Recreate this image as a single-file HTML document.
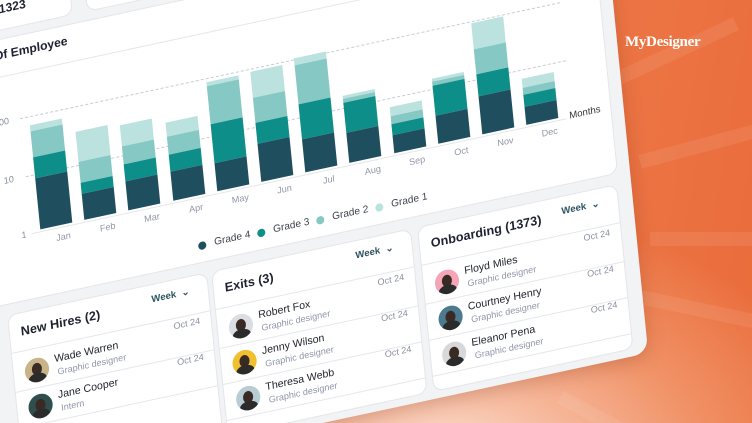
<!DOCTYPE html>
<html><head><meta charset="utf-8"><style>
*{margin:0;padding:0;box-sizing:border-box}
html{width:752px;height:423px;overflow:hidden;background:#EE7B4B}
body{width:752px;height:423px;overflow:hidden;position:relative;font-family:"Liberation Sans",sans-serif;
background:radial-gradient(ellipse 420px 260px at 58% 110%,#FCE3D6 0%,#F6B597 35%,#F09064 65%,rgba(238,122,74,0) 100%),linear-gradient(100deg,#F08A5C 0%,#EE7B4B 60%,#EA6C3B 100%);}
.ray{position:absolute;background:rgba(255,255,255,0.08);height:14px;transform-origin:0 50%}
#clip{position:absolute;left:0;top:0;width:752px;height:423px;overflow:hidden}
#w{position:absolute;left:0;top:0;width:0;height:0;transform:matrix(1,-0.215,0.1,1,0,0);transform-origin:0 0}
#w div{position:absolute}
.panel{left:-140px;top:-120px;width:740px;height:602px;background:#F2F3F5;border-radius:14px;box-shadow:0 4px 18px rgba(120,40,10,.25)}
.card{background:#fff;border:1px solid #E4E6EA;border-radius:10px}
.bar div{position:relative!important;width:32px}
.g4{background:#1F4F5F}.g3{background:#0E8E89}.g2{background:#86C8C4}.g1{background:#BCE2DF}
.ml{font-size:9px;color:#9096A8;width:40px;text-align:center}
.dash{height:0;border-top:1px dashed #C9CCD4}
.leg{font-size:10px;color:#3B3F4A;white-space:nowrap}
.dot{width:8px;height:8px;border-radius:50%}
.ct{font-size:12.5px;font-weight:bold;color:#1E2230;white-space:nowrap}
.wk{font-size:9.5px;color:#2F5561;white-space:nowrap;font-weight:bold}
.dt{font-size:9px;color:#8A8FA3;white-space:nowrap}
.nm{font-size:10.5px;color:#22252E;white-space:nowrap}
.sb{font-size:9px;color:#8F94A8;white-space:nowrap}
.sep{height:1px;background:#E6E7EB}
.av{width:24px;height:24px;border-radius:50%;overflow:hidden}
.av i{position:absolute;left:7px;top:5px;width:10px;height:12px;border-radius:50%;background:#3A2A24}
.av b{position:absolute;left:3px;top:15px;width:18px;height:12px;border-radius:50%;background:#2B2B2B}
</style></head><body>
<div id="clip">
<div class="ray" style="left:600px;top:80px;width:150px;transform:rotate(-25deg)"></div>
<div class="ray" style="left:640px;top:155px;width:120px;transform:rotate(-15deg)"></div>
<div class="ray" style="left:650px;top:232px;width:110px;transform:rotate(0deg)"></div>
<div class="ray" style="left:640px;top:290px;width:120px;transform:rotate(12deg)"></div>
<div class="ray" style="left:560px;top:390px;width:160px;transform:rotate(28deg)"></div>
<div id="w">
<div class="panel"></div>
<div class="card" style="left:-140px;top:-100px;width:210px;height:130px"></div>
<div style="left:-2px;top:2px;font-size:12px;font-weight:bold;color:#1E2230">1323</div>
<div class="card" style="left:84px;top:-100px;width:504px;height:130px"></div>
<div class="card" style="left:-140px;top:38px;width:728px;height:262px"></div>
<div class="ct" style="left:-80px;top:47px;width:142px;text-align:right;font-size:12px">Numbers Of Employee</div>
<div class="sep" style="left:-140px;top:75px;width:728px"></div>
<div class="dash" style="left:8px;top:120px;width:540px"></div>
<div class="dash" style="left:8px;top:178px;width:540px"></div>
<div class="sep" style="left:8px;top:235px;width:535px"></div>
<div class="dt" style="left:-18px;top:115px">100</div>
<div class="dt" style="left:-14px;top:173px">10</div>
<div class="dt" style="left:-2px;top:230px">1</div>
<div class="dt" style="left:546px;top:228px;color:#333;font-size:9.5px">Months</div>
<div id="bars"></div>
<div class="dot g4" style="left:170px;top:279px"></div><div class="leg" style="left:186px;top:277px">Grade 4</div>
<div class="dot g3" style="left:229px;top:279px"></div><div class="leg" style="left:245px;top:277px">Grade 3</div>
<div class="dot g2" style="left:288px;top:279px"></div><div class="leg" style="left:304px;top:277px">Grade 2</div>
<div class="dot g1" style="left:347px;top:279px"></div><div class="leg" style="left:363px;top:277px">Grade 1</div>
<div id="cards"></div>
</div>
<div style="position:absolute;left:625px;top:34px;color:#fff;font-family:'Liberation Serif',serif;font-weight:bold;font-size:15px;letter-spacing:-0.3px">MyDesigner</div>
</div>
<script>
var B=[[51,21,26,6],[26,11,21,30],[29,17,18,21],[29,17,18,14],[28,39,38,4],[38,21,25,26],[33,35,39,7],[30,30,4,3],[18,11,8,9],[28,30,4,3],[38,22,25,26],[18,12,7,9]];
var M=["Jan","Feb","Mar","Apr","May","Jun","Jul","Aug","Sep","Oct","Nov","Dec"];
var h="";
B.forEach(function(b,i){var x=17+i*44.2,t=b[0]+b[1]+b[2]+b[3];
h+='<div class="bar" style="left:'+x+'px;top:'+(233-t)+'px"><div class="g1" style="height:'+b[3]+'px"></div><div class="g2" style="height:'+b[2]+'px"></div><div class="g3" style="height:'+b[1]+'px"></div><div class="g4" style="height:'+b[0]+'px"></div></div>';
h+='<div class="ml" style="left:'+(x+2)+'px;top:240px">'+M[i]+'</div>';});
document.getElementById("bars").outerHTML=h;
var C=[[-24,"New Hires (2)",[["Wade Warren","Graphic designer","#C9B48A"],["Jane Cooper","Intern","#2F4F4F"]]],
[180,"Exits (3)",[["Robert Fox","Graphic designer","#DADDE2"],["Jenny Wilson","Graphic designer","#F0C030"],["Theresa Webb","Graphic designer","#B8CCD4"]]],
[386,"Onboarding (1373)",[["Floyd Miles","Graphic designer","#F4A6B8"],["Courtney Henry","Graphic designer","#4C7A8F"],["Eleanor Pena","Graphic designer","#D8D8DA"]]]];
var g="";
C.forEach(function(c){var x=c[0],y=310;
g+='<div class="card" style="left:'+x+'px;top:'+y+'px;width:200px;height:165px"></div>';
g+='<div class="ct" style="left:'+(x+12)+'px;top:'+(y+12)+'px">'+c[1]+'</div>';
g+='<div class="wk" style="left:'+(x+143)+'px;top:'+(y+10)+'px">Week &nbsp;⌄</div>';
g+='<div class="sep" style="left:'+x+'px;top:'+(y+38)+'px;width:200px"></div>';
c[2].forEach(function(r,j){var ry=y+41+j*36;
g+='<div class="dt" style="left:'+(x+162)+'px;top:'+(ry)+'px">Oct 24</div>';
g+='<div class="av" style="left:'+(x+12)+'px;top:'+(ry+7)+'px;background:'+r[2]+'"><i></i><b></b></div>';
g+='<div class="nm" style="left:'+(x+42)+'px;top:'+(ry+6)+'px">'+r[0]+'</div>';
g+='<div class="sb" style="left:'+(x+44)+'px;top:'+(ry+20)+'px">'+r[1]+'</div>';
g+='<div class="sep" style="left:'+x+'px;top:'+(ry+36)+'px;width:200px"></div>';});});
document.getElementById("cards").outerHTML=g;
</script>
</body></html>
